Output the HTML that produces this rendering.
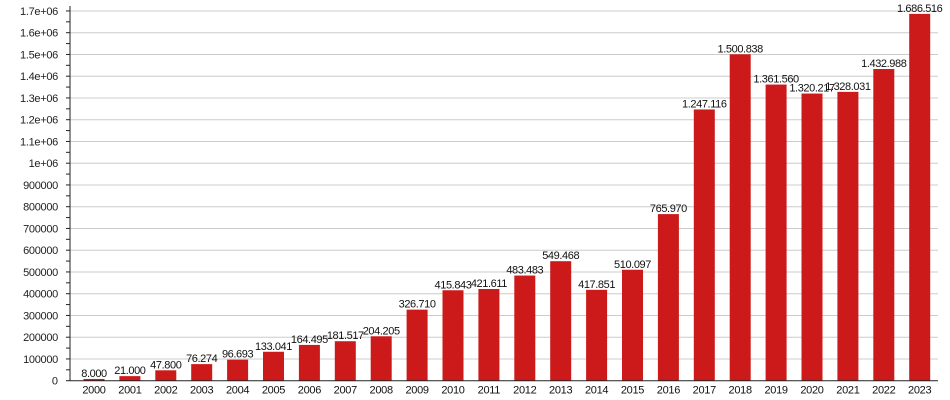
<!DOCTYPE html><html><head><style>body{margin:0;background:#fff}svg{display:block;font-family:"Liberation Sans",sans-serif}</style></head><body>
<svg width="950" height="400" xmlns="http://www.w3.org/2000/svg" id="s"></svg>
<script>
const d=[8000,21000,47800,76274,96693,133041,164495,181517,204205,326710,415843,421611,483483,549468,417851,510097,765970,1247116,1500838,1361560,1320217,1328031,1432988,1686516];
const z=380.7,k=21.75/100000,x0=94,dx=35.9,bw=21;let h='';
const fmt=v=>v.toString().replace(/\B(?=(\d{3})+(?!\d))/g,'.');
for(let i=1;i<=17;i++){const y=z-i*100000*k;h+=`<line x1="70" x2="938" y1="${y}" y2="${y}" stroke="#ccc"/>`;
h+=`<text x="58" y="${y+4}" font-size="11" text-anchor="end" fill="#222" letter-spacing="-0.3">${i<10?i*100000:(i/10).toFixed(1).replace('.0','')+'e+06'}</text>`;}
h+=`<text x="58" y="${z+4}" font-size="11" text-anchor="end" fill="#222">0</text>`;
for(let i=0;i<=34;i++){const y=z-i*50000*k;h+=`<line x1="66" x2="70" y1="${y}" y2="${y}" stroke="#222"/>`;}
d.forEach((v,i)=>{const c=x0+i*dx,y=z-v*k;h+=`<rect x="${c-bw/2}" y="${y}" width="${bw}" height="${z-y}" fill="#cc1a1a"/>`;
h+=`<text x="${c}" y="${y-2}" font-size="11" text-anchor="middle" fill="#111" letter-spacing="-0.4">${fmt(v)}</text>`;
h+=`<text x="${c}" y="${z+13}" font-size="11" text-anchor="middle" fill="#111" letter-spacing="-0.3">${2000+i}</text>`;});
h+=`<line x1="70" x2="70" y1="6" y2="${z}" stroke="#222"/><line x1="70" x2="938" y1="${z}" y2="${z}" stroke="#222"/>`;
document.getElementById('s').innerHTML=h;
</script></body></html>
